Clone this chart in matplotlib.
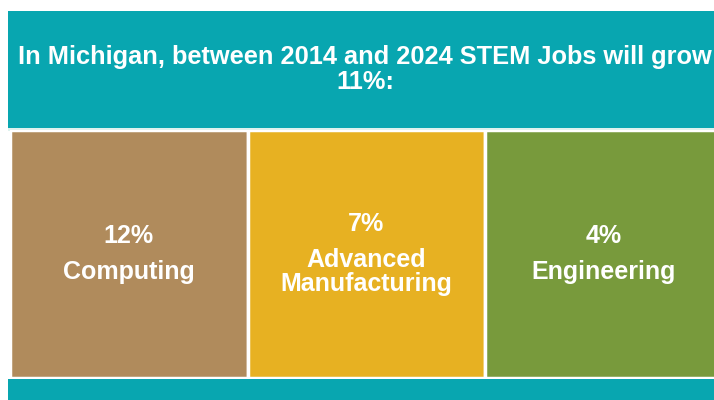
import matplotlib
matplotlib.use("Agg")
from matplotlib import pyplot as plt
from matplotlib.patches import Rectangle

# data
title_line1 = "In Michigan, between 2014 and 2024 STEM Jobs will grow"
title_line2 = "11%:"
categories = ["Computing", "Advanced\nManufacturing", "Engineering"]
growth = [12, 7, 4]
colors = ["#B08B5C", "#E7B122", "#789A3C"]
teal = "#08A6B0"

plt.rcParams['font.family'] = ['Liberation Sans', 'DejaVu Sans']

W, H = 714, 400
fig = plt.figure(figsize=(W / 100, H / 100), dpi=100)
fig.patch.set_facecolor("white")

# background canvas in pixel coords (top-left origin)
bg = fig.add_axes([0, 0, 1, 1])
bg.set_xlim(0, W)
bg.set_ylim(H, 0)
bg.axis("off")
bg.add_patch(Rectangle((8, 11), W - 8, 117, facecolor=teal, edgecolor="none"))
bg.add_patch(Rectangle((8, 128), W - 8, 3, facecolor="#DDF2EE", edgecolor="none"))
bg.add_patch(Rectangle((8, 379), W - 8, 21, facecolor=teal, edgecolor="none"))

bg.text(365, 57, title_line1, color="white", fontsize=18.3, fontweight="bold",
        ha="center", va="center")
bg.text(365, 82, title_line2, color="white", fontsize=18.3, fontweight="bold",
        ha="center", va="center")

# boxes
box_w = 237.5
box_h = 378 - 130
ax = fig.add_axes([10 / W, (H - 378) / H, (W - 10) / W, box_h / H])
ax.set_xlim(0, (W - 10) / box_w)
ax.set_ylim(0, 1)
ax.axis("off")
ax.bar(range(len(categories)), [1] * len(categories), width=1, align="edge",
       color=colors, edgecolor="white", linewidth=2.5)

label_y = 0.427
for i, (cat, g) in enumerate(zip(categories, growth)):
    nlines = cat.count("\n") + 1
    pct_y = label_y + ((nlines - 1) * 12.5 + 36) / box_h
    ax.text(i + 0.5, pct_y, f"{g}%", color="white", fontsize=18,
            fontweight="bold", ha="center", va="center")
    ax.text(i + 0.5, label_y, cat, color="white", fontsize=18,
            fontweight="bold", ha="center", va="center", linespacing=1.0)

fig.savefig("out.png", dpi=100, facecolor="white")
